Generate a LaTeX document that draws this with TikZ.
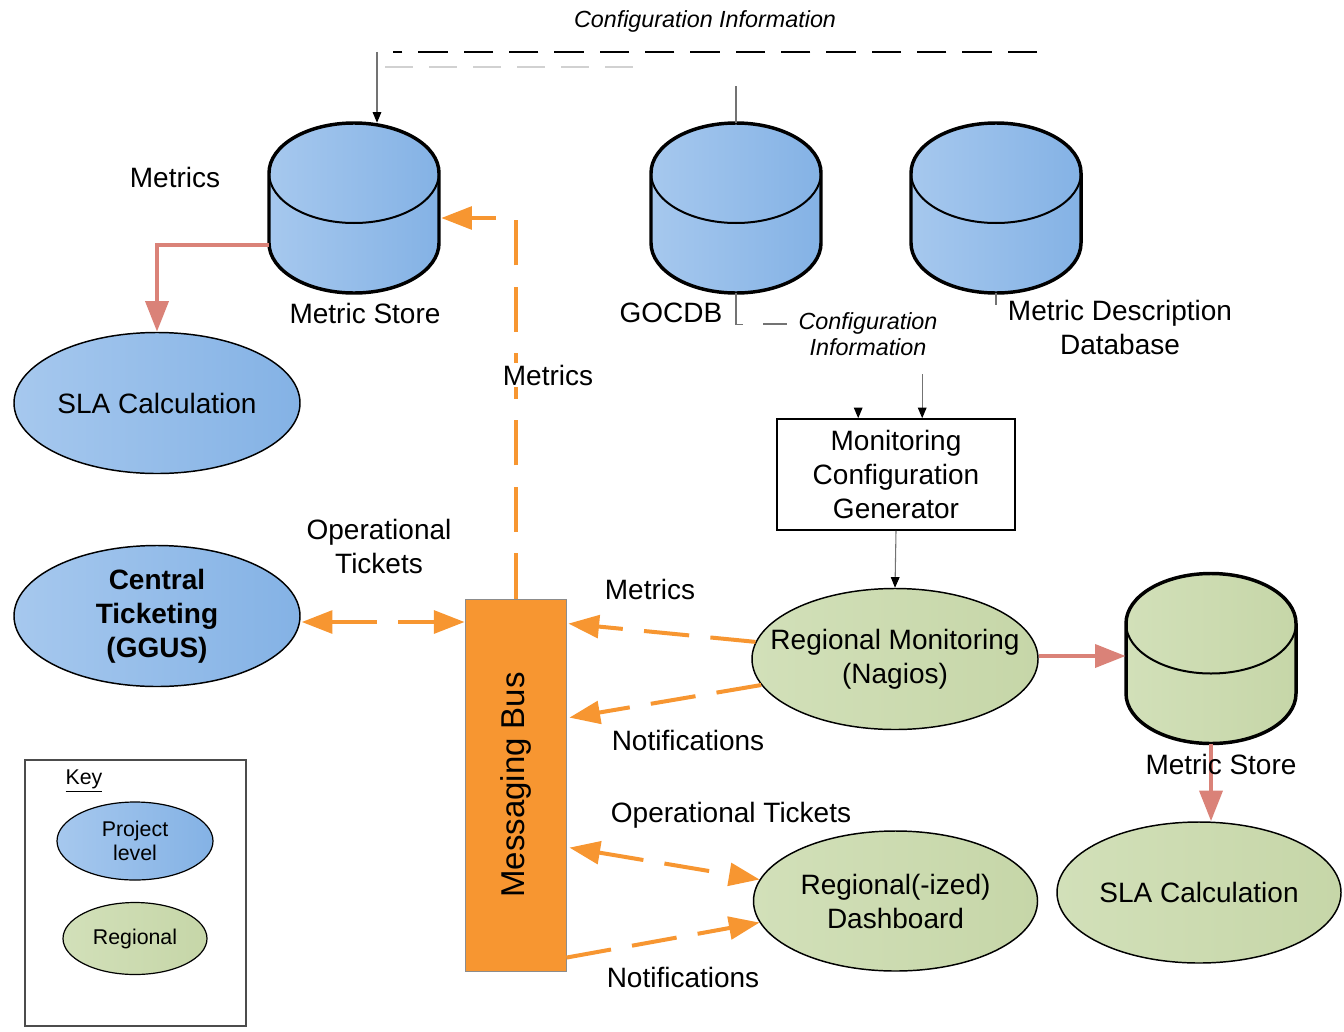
\documentclass[tikz,border=0pt]{standalone}
\usepackage{fontspec}
\setmainfont{Liberation Sans}
\usetikzlibrary{shapes.geometric,arrows.meta,calc}
\definecolor{blueL}{RGB}{166,200,238}
\definecolor{blueR}{RGB}{132,178,229}
\definecolor{greenL}{RGB}{210,224,185}
\definecolor{greenR}{RGB}{198,214,168}
\definecolor{busorange}{RGB}{247,150,49}
\definecolor{salmon}{RGB}{218,130,120}
\newcommand\fmain{\fontsize{21}{25.5}\selectfont}
\newcommand\fconf{\itshape\fontsize{17.5}{19.5}\selectfont}
\newcommand\fkey{\fontsize{16}{18}\selectfont}
\newcommand\fbus{\fontsize{24.75}{28}\selectfont}
\newcommand\cyl[4]{%
  \node[minimum width=127.5pt, minimum height=127.5pt, inner sep=0pt] (#1) at (#2,#3) {};
  \path[#4, draw=black, line width=2.6pt] (#2-85,#3-35) -- (#2-85,#3+35)
     arc[start angle=180,end angle=360,x radius=63.75pt,y radius=37.5pt] -- (#2+85,#3-35)
     arc[start angle=0,end angle=180,x radius=63.75pt,y radius=37.5pt] -- cycle;
  \draw[line width=1.5pt] (#2-85,#3-35) arc[start angle=180,end angle=360,x radius=63.75pt,y radius=37.5pt];
}
\tikzset{
  blueell/.style={ellipse, draw=black, line width=1.1pt, left color=blueL, right color=blueR,
    inner sep=0pt, align=center, font=\fmain, minimum width=214.5pt, minimum height=105.75pt},
  greenell/.style={blueell, left color=greenL, right color=greenR},
  oline/.style={draw=busorange, line width=3pt, dash pattern=on 34pt off 16pt},
  oarrow/.style={-{Triangle[length=23pt,width=17pt]}},
  obiarrow/.style={{Triangle[length=23pt,width=17pt]}-{Triangle[length=23pt,width=17pt]}},
  redline/.style={draw=salmon, line width=3.5pt, -{Triangle[length=23pt,width=17pt]}},
  thinline/.style={draw=black!55, line width=0.8pt},
  tarrow/.style={thinline, -{Triangle[length=8pt,width=6.5pt,color=black]}},
  lbl/.style={font=\fmain, align=center, inner sep=1pt},
}
\begin{document}
\begin{tikzpicture}[x=0.75pt,y=-0.75pt]
\useasboundingbox (0,0) rectangle (1344,1031);

% cylinders
\cyl{ms1}{354}{208}{left color=blueL,right color=blueR}
\cyl{gocdb}{736}{208}{left color=blueL,right color=blueR}
\cyl{mdd}{996}{208}{left color=blueL,right color=blueR}
\cyl{gms}{1211}{658.5}{left color=greenL,right color=greenR}

% ellipses
\node[blueell] (sla1) at (157,403) {SLA Calculation};
\node[blueell, font=\fmain\bfseries] (ctk) at (157,616) {Central\\Ticketing\\(GGUS)};
\node[greenell, inner xsep=-40pt] (regmon) at (895,659) {Regional Monitoring\\(Nagios)};
\node[greenell, minimum width=213pt, minimum height=105pt] (dboard) at (895.5,901) {Regional(-ized)\\Dashboard};
\node[greenell, minimum width=213pt, inner xsep=-20pt] (sla2) at (1199,892.5) {SLA Calculation};

% key
\node[draw=black!70, line width=0.8pt, minimum width=165.75pt, minimum height=199.5pt, inner sep=0pt] (keybox) at (135.5,893) {};
\node[font=\fkey, inner sep=1pt] (keyt) at (84,781) {\underline{Key}};
\node[blueell, font=\fkey, line width=0.9pt, minimum width=117pt, minimum height=58.5pt] (kproj) at (135,841) {Project\\level};
\node[greenell, font=\fkey, line width=0.9pt, minimum width=108pt, minimum height=54pt] (kreg) at (135,938.5) {Regional};

% messaging bus
\node[draw=black!45, line width=0.6pt, fill=busorange, minimum width=75.75pt, minimum height=279pt, inner sep=0pt] (bus) at (515.5,785) {};
\node[rotate=90, font=\fbus] (bustext) at (516,785) {Messaging Bus};

% monitoring configuration generator
\node[draw=black, line width=1.2pt, minimum width=178.5pt, minimum height=83.25pt, align=center, font=\fmain, inner sep=0pt] (mcg) at (896,474.5) {Monitoring\\Configuration\\Generator};

% configuration information connectors (top)
\coordinate (cfgR) at (1037,52);
\coordinate (cfgL) at (393,52);
\coordinate (cfgT) at (377,52);
\coordinate (ghostL) at (385,67);
\coordinate (ghostR) at (640,67);
\draw[thinline, draw=black, dash pattern=on 22pt off 12pt] (cfgR) -- (cfgL);
\draw[draw=black!18, line width=0.8pt, dash pattern=on 21pt off 12pt] (ghostL) -- (ghostR);
\draw[tarrow] (cfgT) -- ($(ms1.north)+(23,0)$);
\draw[thinline] (gocdb.north) -- ++(0,-37);
\node[font=\fconf, inner sep=1pt] (cfgtop) at (705,21) {Configuration Information};

% configuration information connectors (middle)
\coordinate (cfgA) at (763,324);
\coordinate (cfgB) at (787,324);
\draw[thinline] (gocdb.south) -- ++(0,31) -- ++(7,0);
\draw[thinline] (cfgA) -- (cfgB);
\draw[thinline] (mdd.south) -- ++(0,12);
\node[font=\fconf, align=center, inner sep=1pt] (cfgmid) at (868,334) {Configuration\\Information};
\draw[tarrow, draw=white] ($(mcg.north west)+(82,-22)$) -- ($(mcg.north west)+(82,0)$);
\draw[tarrow] ($(mcg.north west)+(146,-44)$) -- ($(mcg.north west)+(146,0)$);
\draw[tarrow] (mcg.south) -- (regmon.north);

% orange message flows
\draw[oline, oarrow] (bus.north) |- ($(ms1.east)+(2,10)$);
\node[lbl, fill=white] (mlbl) at (548,375) {Metrics};
\coordinate (tk) at ($(ctk.east)+(1,6)$);
\draw[oline, obiarrow] (tk) -- (tk -| bus.west);
\draw[oline, oarrow] (regmon.173) -- ($(bus.north east)+(2,25)$);
\draw[oline, oarrow] (regmon.191) -- ($(bus.north east)+(3,119)$);
\draw[oline, obiarrow] ($(bus.north east)+(3,249)$) -- (dboard.171);
\draw[oline, oarrow] ($(bus.north east)+(0,359)$) -- (dboard.189);

% red flows
\draw[redline] ($(ms1.west)+(0,37)$) -| (sla1.north);
\draw[redline] ($(regmon.east)+(0,-3)$) -- ($(regmon.east -| gms.west)+(0,-3)$);
\draw[redline] (gms.south) -- (gms.south |- sla2.north);

% labels
\node[lbl] (l1) at (175,177) {Metrics};
\node[lbl] (l2) at (365,313) {Metric Store};
\node[lbl] (l3) at (671,313) {GOCDB};
\node[lbl] (l4) at (1120,327) {Metric Description\\Database};
\node[lbl] (l5) at (379,546.5) {Operational\\Tickets};
\node[lbl] (l6) at (650,589) {Metrics};
\node[lbl] (l7) at (688,740) {Notifications};
\node[lbl] (l8) at (731,815) {Operational Tickets};
\node[lbl] (l9) at (683,977) {Notifications};
\node[lbl] (l10) at (1221,764) {Metric Store};
\end{tikzpicture}
\end{document}
